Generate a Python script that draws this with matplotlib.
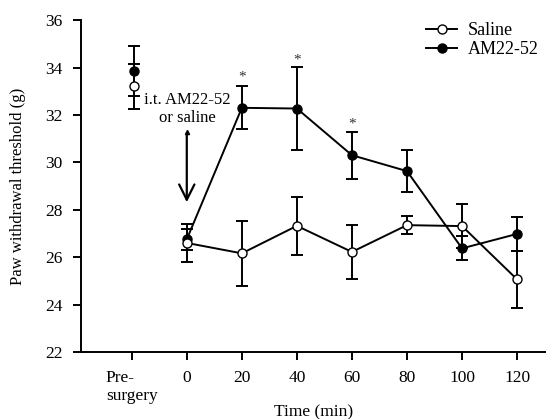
import matplotlib
matplotlib.use("Agg")
import matplotlib.pyplot as plt
from matplotlib.lines import Line2D

plt.rcParams['font.family'] = ['Liberation Serif', 'DejaVu Serif']

x_pos = [-19, 0, 20, 40, 60, 80, 100, 120]
tick_pos = [-20, 0, 20, 40, 60, 80, 100, 120]
tick_labels = ["Pre-\nsurgery", "0", "20", "40", "60", "80", "100", "120"]

saline = [33.2, 26.6, 26.16, 27.32, 26.22, 27.35, 27.31, 25.06]
saline_err = [0.93, 0.8, 1.37, 1.23, 1.15, 0.37, 0.93, 1.2]
am = [33.85, 26.75, 32.3, 32.27, 30.3, 29.63, 26.37, 26.98]
am_err = [1.04, 0.45, 0.9, 1.75, 1.0, 0.87, 0.51, 0.7]

star_x = [20, 40, 60]
star_y = [33.6, 34.3, 31.6]

fig = plt.figure(figsize=(5.46, 4.19), dpi=100)
ax = fig.add_axes([0.148, 0.160, 0.852, 0.792])

lw = 1.4
ms = 6.5
ax.errorbar(x_pos[:1], am[:1], yerr=am_err[:1], fmt='o', color='black', mfc='black',
            ms=ms, lw=lw, capsize=4.5, capthick=lw, zorder=3)
ax.errorbar(x_pos[:1], saline[:1], yerr=saline_err[:1], fmt='o', color='black', mfc='white',
            ms=ms, lw=lw, capsize=4.5, capthick=lw, zorder=4)
ax.errorbar(x_pos[1:], am[1:], yerr=am_err[1:], fmt='-o', color='black', mfc='black',
            ms=ms, lw=lw, capsize=4.5, capthick=lw, zorder=3)
ax.errorbar(x_pos[1:], saline[1:], yerr=saline_err[1:], fmt='-o', color='black', mfc='white',
            ms=ms, lw=lw, capsize=4.5, capthick=lw, zorder=4)

for sx, sy in zip(star_x, star_y):
    ax.text(sx, sy, '*', ha='center', va='center', fontsize=11, color='#333333')

ax.text(0.3, 32.65, 'i.t. AM22-52', ha='center', va='center', fontsize=12)
ax.text(0.3, 31.85, 'or saline', ha='center', va='center', fontsize=12)
ax.annotate('', xy=(0, 28.2), xytext=(0, 31.3),
            arrowprops=dict(arrowstyle='->,head_length=1.1,head_width=0.55', lw=1.6, color='black'))
ax.plot([0], [31.3], marker='^', ms=3, color='black')

ax.set_xlim(-38.5, 130.5)
ax.set_ylim(22, 36)
ax.set_yticks([22, 24, 26, 28, 30, 32, 34, 36])
ax.set_xticks(tick_pos)
ax.set_xticklabels(tick_labels)
ax.get_xticklabels()[0].set_multialignment('left')
ax.spines['top'].set_visible(False)
ax.spines['right'].set_visible(False)
ax.spines['left'].set_linewidth(1.4)
ax.spines['bottom'].set_linewidth(1.4)
ax.tick_params(axis='both', direction='out', length=6, width=1.4, labelsize=12.5)
ax.tick_params(axis='x', pad=7)
ax.tick_params(axis='y', pad=7)
ax.set_ylabel('Paw withdrawal threshold (g)', fontsize=12, labelpad=14)
ax.set_xlabel('Time (min)', fontsize=12.5, labelpad=0)

handles = [Line2D([], [], color='black', lw=lw, marker='o', mfc='white', ms=ms),
           Line2D([], [], color='black', lw=lw, marker='o', mfc='black', ms=ms)]
ax.legend(handles, ['Saline', 'AM22-52'], loc='upper right', frameon=False, fontsize=13,
          handlelength=1.7, handletextpad=0.6, labelspacing=0.1,
          bbox_to_anchor=(1.0, 1.015), borderaxespad=0)

fig.savefig('out.png', dpi=100)
